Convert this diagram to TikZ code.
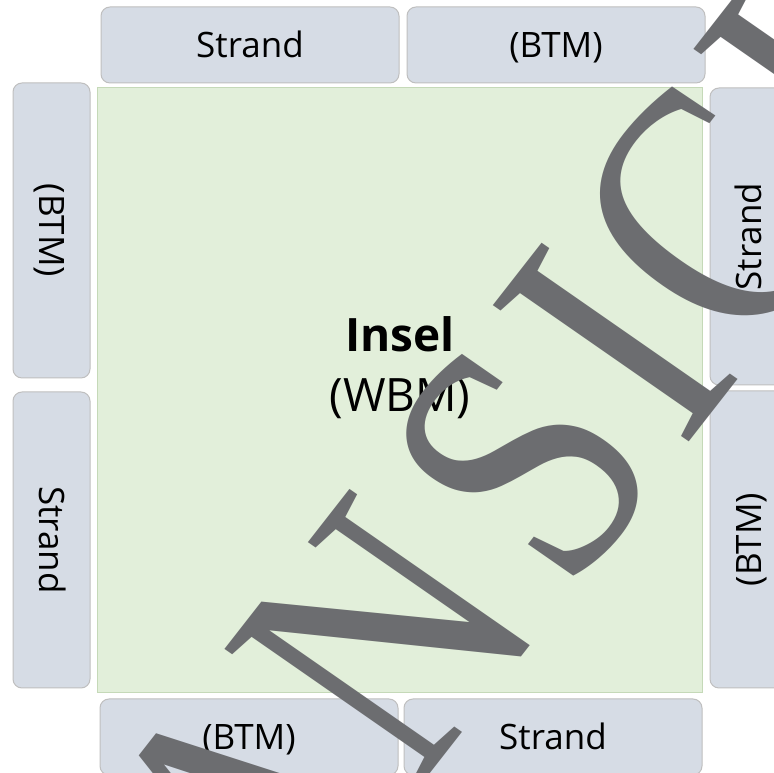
\documentclass[tikz,border=0pt]{standalone}
\usepackage{fontspec}
\setmainfont{Open Sans}
\newfontfamily\wmfont{Liberation Serif}
\definecolor{boxfill}{HTML}{D6DCE5}
\definecolor{boxline}{HTML}{BFBFBF}
\definecolor{islfill}{HTML}{E2EFDA}
\definecolor{islline}{HTML}{C5D9B8}
\definecolor{wmgray}{HTML}{6C6D70}
\begin{document}
\begin{tikzpicture}[x=1pt,y=1pt,
 sidebox/.style={draw=boxline, fill=boxfill, line width=1pt, rounded corners=9pt,
   minimum width=298pt, minimum height=76pt, inner sep=0pt,
   font=\fontsize{35}{42}\selectfont, text height=25pt, text depth=0pt},
 island/.style={draw=islline, fill=islfill, line width=1pt,
   minimum width=605pt, minimum height=605pt, inner sep=0pt},
 centertext/.style={anchor=base, inner sep=0pt, font=\fontsize{46}{50}\selectfont},
 wm/.style={transform shape, anchor=base, inner sep=0pt, text=wmgray,
   font=\wmfont\fontsize{365}{365}\selectfont}]
\useasboundingbox (0,0) rectangle (774,773);
\clip (0,0) rectangle (774,773);
\fill[white] (0,0) rectangle (774,773);
% island
\node[island] (insel) at (399.5,382.5) {};
\node[centertext, font=\bfseries\fontsize{46}{50}\selectfont] (inseltitle) at (400,421) {Insel};
\node[centertext] (inselsub) at (400,361) {(WBM)};
% top
\node[sidebox] (tS) at (250,728) {Strand};
\node[sidebox] (tB) at (556,728) {(BTM)};
% left
\node[sidebox, rotate=-90, minimum width=295pt, minimum height=77pt] (lB) at (51.5,542.5) {(BTM)};
\node[sidebox, rotate=-90, minimum width=296pt, minimum height=77pt] (lS) at (51.5,233) {Strand};
% right
\node[sidebox, rotate=90, minimum width=297pt, minimum height=77pt] (rS) at (748.5,536.5) {Strand};
\node[sidebox, rotate=90, minimum width=297pt, minimum height=77pt] (rB) at (748.5,233.5) {(BTM)};
% bottom
\node[sidebox] (bB) at (249,36) {(BTM)};
\node[sidebox] (bS) at (553,36) {Strand};
% watermark
\begin{scope}[cm={0.511,0.654,-0.82,0.57,(438,9)}]
\node[wm] (wA) at (-178,0) {A};
\node[wm] (wN) at (88,0) {N};
\node[wm] (wS) at (356,0) {S};
\node[wm] (wI) at (540,0) {I};
\node[wm] (wC) at (736,0) {C};
\node[wm] (wH) at (1006,0) {H};
\end{scope}
\end{tikzpicture}
\end{document}
